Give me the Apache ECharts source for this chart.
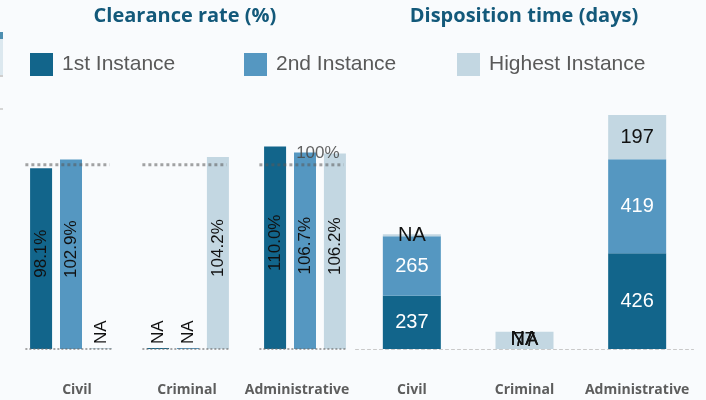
<!DOCTYPE html>
<html><head><meta charset="utf-8">
<script src="https://cdn.jsdelivr.net/npm/echarts@6/dist/echarts.min.js"></script>
<style>html,body{margin:0;padding:0;background:#f9fbfd}#c{width:706px;height:400px}</style>
</head><body><div id="c"></div>
<script>
const categories = ['Civil', 'Criminal', 'Administrative'];
const seriesNames = ['1st Instance', '2nd Instance', 'Highest Instance'];
const clearance1st = [98.1, null, 110.0];
const clearance2nd = [102.9, null, 106.7];
const clearanceHighest = [null, 104.2, 106.2];
const disposition1st = [237, null, 426];
const disposition2nd = [265, null, 419];
const dispositionHighest = [null, 77, 197];
const referenceRate = 100;

const colors = ['#12658b', '#5597c1', '#c3d7e2'];
const sansFont = 'Liberation Sans, Arial, sans-serif';
const headFont = 'Open Sans, Noto Sans, sans-serif';

const clearance = [clearance1st, clearance2nd, clearanceHighest];
const disposition = [disposition1st, disposition2nd, dispositionHighest];

function leftSeries(i) {
  return {
    name: seriesNames[i], type: 'bar', xAxisIndex: 0, yAxisIndex: 0,
    barWidth: 22, barGap: '36%', barMinHeight: 1,
    itemStyle: { color: colors[i] },
    label: {
      show: true, position: 'inside', rotate: 90, fontSize: 17, color: '#111', offset: [5, 0],
      fontFamily: sansFont, formatter: p => Number(p.value).toFixed(1) + '%'
    },
    data: clearance[i].map(v => v == null ? {
      value: 0,
      label: { position: 'top', distance: 4, offset: [0, 0], align: 'left', verticalAlign: 'middle', formatter: 'NA' }
    } : v)
  };
}

function rightSeries(i) {
  return {
    name: seriesNames[i], type: 'bar', xAxisIndex: 1, yAxisIndex: 1, stack: 'disp',
    barWidth: 58, barMinHeight: i === 2 ? 2 : 0,
    itemStyle: { color: colors[i] },
    label: {
      show: true, position: 'inside', fontSize: 20, fontFamily: sansFont,
      color: i === 2 ? '#111' : '#fff'
    },
    data: disposition[i].map((v, k) => {
      if (v != null) return v;
      let covered = false;
      for (let j = i + 1; j < disposition.length; j++) if (disposition[j][k] != null) covered = true;
      return { value: 0, label: { formatter: 'NA', color: '#111', offset: covered ? [0, -10] : [0, 0] } };
    })
  };
}

const refSeries = {
  type: 'custom', xAxisIndex: 0, yAxisIndex: 0, z: 5, silent: true,
  data: categories.map((c, k) => [k, referenceRate]),
  encode: { x: 0, y: 1 },
  renderItem(params, api) {
    const idx = api.value(0);
    const base = api.coord([idx, 0]);
    const ref = api.coord([idx, api.value(1)]);
    const bw = api.size([1, 0])[0];
    const children = [
      { type: 'line', shape: { x1: base[0] - 0.39 * bw, y1: base[1], x2: base[0] + 0.35 * bw, y2: base[1] },
        style: { stroke: 'rgba(110,110,110,0.8)', lineWidth: 1.5, lineDash: [2, 2] } },
      { type: 'line', shape: { x1: ref[0] - 0.39 * bw, y1: ref[1], x2: ref[0] + 0.33 * bw, y2: ref[1] },
        style: { stroke: 'rgba(90,90,90,0.55)', lineWidth: 3, lineDash: [3, 3] } }
    ];
    if (params.dataIndex === categories.length - 1) {
      children.push({ type: 'text', style: {
        text: api.value(1) + '%', x: ref[0] + 0.11 * bw, y: ref[1] - 12,
        align: 'center', verticalAlign: 'middle', fontSize: 17, fontFamily: sansFont,
        fill: 'rgba(70,70,70,0.85)' } });
    }
    return { type: 'group', children };
  }
};

const catLabel = { margin: 34, interval: 0, fontSize: 14, fontWeight: 'bold', color: '#5d5d5d', fontFamily: headFont };
const legendLefts = [30, 244, 457];
const titleStyle = { fontSize: 20, fontWeight: 'bold', color: '#13597a', fontFamily: headFont };

const option = {
  backgroundColor: '#f9fbfd',
  animation: false,
  title: [
    { text: 'Clearance rate (%)', left: 185, top: 6, textAlign: 'center', padding: 0, textStyle: titleStyle },
    { text: 'Disposition time (days)', left: 524, top: 6, textAlign: 'center', padding: 0, textStyle: titleStyle }
  ],
  legend: seriesNames.map((n, i) => ({
    data: [n], left: legendLefts[i], top: 53, padding: 0, icon: 'rect', itemWidth: 23, itemHeight: 23,
    selectedMode: false,
    textStyle: { fontSize: 21, color: '#595959', fontFamily: sansFont, padding: [0, 0, 0, 4] }
  })),
  grid: [
    { left: 12.5, right: 342.5, top: 128, bottom: 51 },
    { left: 355.5, right: 12.5, top: 102, bottom: 51 },
    { left: 22, right: 354, top: 128, bottom: 51 }
  ],
  xAxis: [
    { type: 'category', gridIndex: 0, data: categories, axisLine: { show: false }, axisTick: { show: false }, axisLabel: { show: false } },
    { type: 'category', gridIndex: 1, data: categories,
      axisLine: { show: true, lineStyle: { color: '#c9c9c9', width: 1, type: [3, 3] } },
      axisTick: { show: false }, axisLabel: catLabel },
    { type: 'category', gridIndex: 2, data: categories, axisLine: { show: false }, axisTick: { show: false }, axisLabel: catLabel }
  ],
  yAxis: [
    { type: 'value', gridIndex: 0, min: 0, max: 120, show: false, splitLine: { show: false } },
    { type: 'value', gridIndex: 1, min: 0, max: 1100, show: false, splitLine: { show: false } },
    { type: 'value', gridIndex: 2, min: 0, max: 120, show: false, splitLine: { show: false } }
  ],
  graphic: [
    { type: 'rect', shape: { x: 0, y: 32, width: 3, height: 7 }, style: { fill: '#4e8fb1' } },
    { type: 'rect', shape: { x: 0, y: 39, width: 3, height: 36 }, style: { fill: '#dce8ef' } },
    { type: 'rect', shape: { x: 0, y: 75, width: 3, height: 2 }, style: { fill: '#cfcfcf' } },
    { type: 'rect', shape: { x: 0, y: 108, width: 3, height: 2 }, style: { fill: '#d5d5d5' } }
  ],
  series: [0, 1, 2].map(leftSeries).concat([0, 1, 2].map(rightSeries)).concat([refSeries])
};

const chart = echarts.init(document.getElementById('c'), null, { renderer: 'canvas' });
chart.setOption(option);
</script>
</body></html>
